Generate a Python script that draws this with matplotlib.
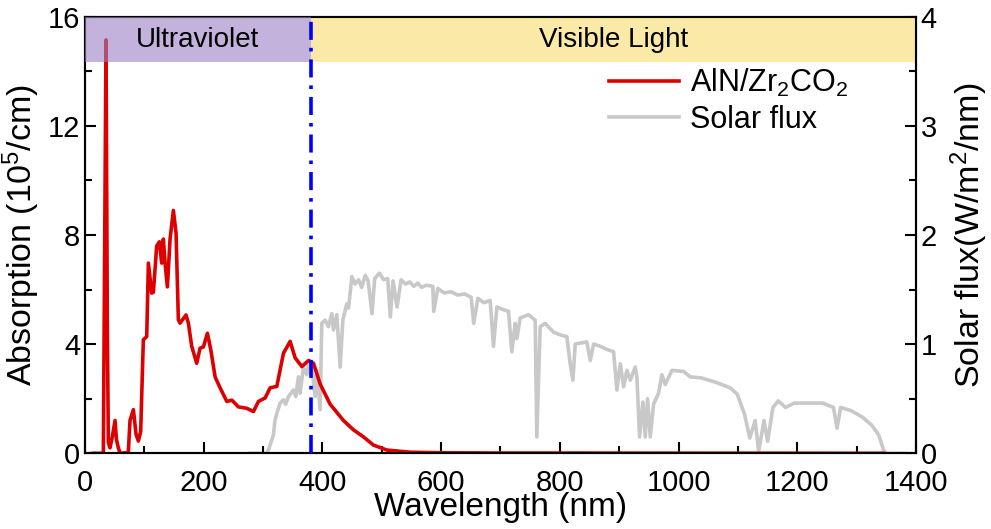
import matplotlib
matplotlib.use('Agg')
import matplotlib.pyplot as plt
import numpy as np

plt.rcParams['font.family'] = ['Liberation Sans', 'DejaVu Sans']
plt.rcParams['mathtext.fontset'] = 'custom'
plt.rcParams['mathtext.rm'] = 'Liberation Sans'
plt.rcParams['mathtext.it'] = 'Liberation Sans'

# absorption of AlN/Zr2CO2 (10^5 /cm)
abs_wl = [14, 30.9, 35.4, 37.6, 39.3, 42.1, 46, 50.6, 53, 56.2, 59, 73, 75.8, 81.5, 86, 89.9,
          93.8, 98.3, 104, 106.8, 112.4, 115.2, 120.8, 125.3, 129.2, 132, 134.9, 138.8, 143.3,
          148.9, 153.4, 157.3, 160.1, 170.2, 174.2, 179.8, 188.2, 193.8, 199.5, 206.2, 211.9,
          219.2, 227.6, 238.9, 247.3, 258.5, 272.5, 283.8, 292.2, 303.5, 311.9, 323.1, 334.4,
          345.6, 354, 365.3, 376.5, 384.9, 396.1, 413, 435.5, 452.3, 469.2, 486, 508.5, 547.8,
          600, 700, 800, 1000, 1200, 1345]
abs_val = [0, 0, 15.15, 4.8, 0.4, 0.2, 0.6, 1.2, 0.5, 0.2, 0, 0.03, 1.2, 1.6, 0.7, 0.45,
           0.8, 4.16, 4.28, 6.97, 5.87, 5.9, 7.6, 7.75, 6.97, 7.85, 6.97, 6.1, 7.85,
           8.9, 8.07, 4.89, 4.77, 5.07, 4.77, 3.92, 3.3, 3.85, 3.9, 4.4, 3.8,
           2.8, 2.4, 1.9, 1.95, 1.7, 1.65, 1.53, 1.9, 2.03, 2.4, 2.45, 3.67,
           4.1, 3.5, 3.18, 3.4, 3.3, 2.54, 1.8, 1.2, 0.86, 0.6, 0.3, 0.12, 0.04,
           0.02, 0.01, 0.01, 0.005, 0.003, 0.0]

# solar flux (W/m^2/nm)
sun_wl = [278, 306, 309, 317.5, 320, 324, 328.7, 334.4, 338, 342.8, 347, 351.2, 355, 359.6,
          362.4, 368, 373.6, 376.5, 382.1, 387.7, 390.5, 393.3, 396.1, 398.9, 404.6, 410.2,
          415.8, 418.6, 424.2, 429.9, 434.4, 438, 441.1, 444, 446.8, 449.6, 455, 460.8, 466,
          472.1, 477, 483.5, 488, 495.9, 503, 510, 514.4, 519, 525.7, 532.5, 540, 547, 554,
          560.6, 567, 575, 585.9, 587.5, 594.3, 605, 616.8, 628, 639.3, 650.5, 654.9, 661.8,
          672, 682.6, 688.2, 693.8, 703, 713.5, 719.1, 724.7, 727.5, 733.1, 747.2, 758.4,
          761.2, 766.8, 775.3, 789.3, 803.4, 811.8, 817.4, 821.9, 825.9, 834.3, 845.5, 851.2,
          856.8, 868, 880, 890.5, 896.1, 901.8, 907.4, 913, 918.6, 927, 929.8, 934.3, 939.9,
          943.8, 947.8, 952.3, 957.9, 966.3, 971.9, 977.5, 988.8, 1008.5, 1019.7, 1039,
          1063, 1087, 1099, 1111, 1120, 1129, 1135, 1144, 1150, 1159, 1168, 1180, 1195, 1219,
          1243, 1261, 1267, 1273, 1291, 1310, 1325, 1337, 1346, 1352, 1382]
sun_val = [0, 0, 0.03, 0.17, 0.3, 0.38, 0.46, 0.49, 0.45, 0.52, 0.55, 0.58, 0.52, 0.70,
           0.55, 0.79, 0.72, 0.81, 0.78, 0.52, 0.76, 0.58, 0.40, 1.19, 1.22, 1.16,
           1.28, 1.13, 1.27, 0.79, 1.22, 1.30, 1.37, 1.33, 1.48, 1.62, 1.55, 1.59, 1.52,
           1.63, 1.58, 1.28, 1.60, 1.65, 1.59, 1.60, 1.25, 1.58, 1.34, 1.59, 1.55, 1.57, 1.53,
           1.56, 1.52, 1.54, 1.53, 1.30, 1.51, 1.47, 1.48, 1.45, 1.46, 1.43, 1.19, 1.42,
           1.38, 1.40, 0.98, 1.34, 1.32, 1.30, 0.93, 1.19, 1.05, 1.24, 1.27, 1.22,
           0.15, 1.16, 1.19, 1.11, 1.08, 1.07, 0.82, 0.67, 1.00, 1.01, 1.02, 0.85,
           1.00, 0.98, 0.95, 0.93, 0.58, 0.82, 0.61, 0.76, 0.67, 0.79, 0.70, 0.15, 0.47,
           0.15, 0.50, 0.15, 0.45, 0.55, 0.72, 0.63, 0.76, 0.75, 0.70, 0.69,
           0.65, 0.60, 0.54, 0.36, 0.14, 0.30, 0.02, 0.30, 0.11, 0.42, 0.48, 0.42, 0.46, 0.46,
           0.46, 0.42, 0.23, 0.42, 0.39, 0.33, 0.26, 0.17, 0.02, 0, 0]

uv_edge = 380
band_lo = 14.35

fig = plt.figure(figsize=(9.91, 5.29), dpi=100)
ax = fig.add_axes([85 / 991, 1 - 453.3 / 529, 831 / 991, 436.6 / 529])
ax2 = ax.twinx()

# solar spectrum underneath
ax2.plot(sun_wl, sun_val, color='#c8c8c8', lw=2.6, label='Solar flux')
ax.plot(abs_wl, abs_val, color='#dd0000', lw=2.6, label='AlN/Zr$_2$CO$_2$')
ax.set_zorder(ax2.get_zorder() + 1)
ax.patch.set_visible(False)

# UV / visible bands
ax.fill_between([0, uv_edge], band_lo, 16, color='#9b80c5', alpha=0.6, lw=0, zorder=3)
ax.fill_between([uv_edge, 1400], band_lo, 16, color='#fbe9a7', lw=0, zorder=1)
ax.text(190, 15.15, 'Ultraviolet', fontsize=20, ha='center', va='center', zorder=5)
ax.text(890, 15.15, 'Visible Light', fontsize=20, ha='center', va='center', zorder=5)
ax.axvline(uv_edge, color='#0000ff', lw=2.6, linestyle=(0, (5, 2.2, 1, 2.2)), zorder=6)

ax.set_xlim(0, 1400)
ax.set_ylim(0, 16)
ax2.set_ylim(0, 4)
ax.set_xticks(np.arange(0, 1401, 200))
ax.set_xticks(np.arange(100, 1400, 200), minor=True)
ax.set_yticks(np.arange(0, 17, 4))
ax.set_yticks(np.arange(2, 16, 4), minor=True)
ax2.set_yticks(np.arange(0, 5, 1))
ax2.set_yticks(np.arange(0.5, 4, 1), minor=True)

for a in (ax, ax2):
    a.tick_params(which='major', direction='in', length=8, width=1.5, labelsize=21)
    a.tick_params(which='minor', direction='in', length=5, width=1.5)
    for s in a.spines.values():
        s.set_linewidth(1.5)
ax.tick_params(axis='x', pad=11)

ax.set_xlabel('Wavelength (nm)', fontsize=24, labelpad=-3)
ax.set_ylabel('Absorption (10$^5$/cm)', fontsize=24.5, labelpad=4)
ax2.set_ylabel('Solar flux(W/m$^2$/nm)', fontsize=24.5, labelpad=8)

h1, l1 = ax.get_legend_handles_labels()
h2, l2 = ax2.get_legend_handles_labels()
ax.legend(h1 + h2, l1 + l2, loc='upper left', bbox_to_anchor=(0.63, 0.885), frameon=False,
          fontsize=22, borderpad=0, borderaxespad=0, handlelength=2.3, handletextpad=0.35,
          labelspacing=0.2)

plt.savefig('out.png', dpi=100)
